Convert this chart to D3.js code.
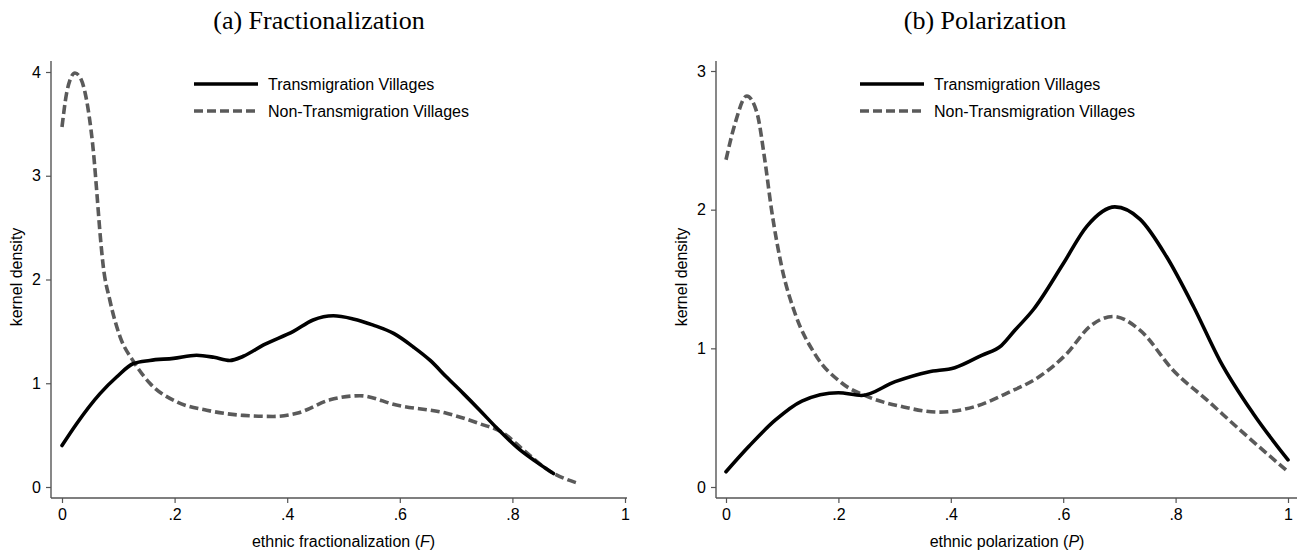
<!DOCTYPE html>
<html>
<head>
<meta charset="utf-8">
<script src="https://cdn.jsdelivr.net/npm/d3@7"></script>
<style>
  body { margin: 0; background: #fff; }
  svg text { font-family: "Liberation Sans", Arial, sans-serif; fill: #000; }
  .title { font-family: "Liberation Serif", "Times New Roman", serif; }
</style>
</head>
<body>
<svg id="chart" width="1303" height="552"></svg>
<script>
// tick labels
const xTicks = [0, 0.2, 0.4, 0.6, 0.8, 1];
const xTickLabels = ['0', '.2', '.4', '.6', '.8', '1'];
const seriesNames = ['Transmigration Villages', 'Non-Transmigration Villages'];

// (a) fractionalization
const fracTransX = [0, 0.026, 0.0675, 0.097, 0.127, 0.156, 0.198, 0.239, 0.27, 0.298, 0.322, 0.358, 0.411, 0.446, 0.482, 0.517, 0.553, 0.589, 0.624, 0.654, 0.683, 0.713, 0.742, 0.772, 0.813, 0.843, 0.873];
const fracTransY = [0.40, 0.61, 0.90, 1.06, 1.19, 1.22, 1.24, 1.27, 1.25, 1.22, 1.26, 1.37, 1.50, 1.61, 1.65, 1.62, 1.56, 1.48, 1.35, 1.22, 1.06, 0.90, 0.74, 0.57, 0.36, 0.24, 0.13];
const fracNonX = [0, 0.008, 0.014, 0.023, 0.032, 0.041, 0.047, 0.056, 0.062, 0.0675, 0.073, 0.085, 0.103, 0.127, 0.156, 0.204, 0.257, 0.322, 0.375, 0.417, 0.476, 0.529, 0.594, 0.683, 0.742, 0.784, 0.819, 0.867, 0.917];
const fracNonY = [3.47, 3.79, 3.92, 3.99, 3.95, 3.80, 3.62, 3.22, 2.83, 2.45, 2.14, 1.80, 1.45, 1.21, 1.00, 0.82, 0.74, 0.69, 0.68, 0.71, 0.84, 0.88, 0.79, 0.71, 0.61, 0.52, 0.36, 0.15, 0.035];
const fracYTicks = [0, 1, 2, 3, 4];

// (b) polarization
const polTransX = [0, 0.04, 0.087, 0.135, 0.2, 0.241, 0.301, 0.36, 0.407, 0.455, 0.49, 0.514, 0.547, 0.6, 0.642, 0.692, 0.737, 0.784, 0.832, 0.879, 0.938, 1.0];
const polTransY = [0.11, 0.29, 0.48, 0.62, 0.68, 0.66, 0.76, 0.83, 0.86, 0.95, 1.02, 1.13, 1.28, 1.61, 1.88, 2.02, 1.93, 1.66, 1.30, 0.91, 0.53, 0.195];
const polNonX = [0, 0.016, 0.037, 0.055, 0.069, 0.081, 0.099, 0.123, 0.158, 0.206, 0.253, 0.313, 0.378, 0.443, 0.502, 0.559, 0.606, 0.648, 0.689, 0.737, 0.796, 0.855, 0.915, 1.0];
const polNonY = [2.36, 2.62, 2.82, 2.70, 2.36, 2.0, 1.59, 1.25, 0.96, 0.75, 0.65, 0.58, 0.54, 0.58, 0.68, 0.80, 0.96, 1.16, 1.23, 1.13, 0.84, 0.63, 0.41, 0.11];
const polYTicks = [0, 1, 2, 3];

const zip = (xs, ys) => xs.map((x, i) => ({ x, y: ys[i] }));

const panels = [
    {
        title: '(a) Fractionalization', titleX: 319,
        xLabel: 'ethnic fractionalization (', xVar: 'F',
        axisLeft: 51, xRange: [62, 625], axisRight: 627,
        yMax: 4, yTop: 72, yTicks: fracYTicks,
        legendX: 194,
        trans: zip(fracTransX, fracTransY), non: zip(fracNonX, fracNonY)
    },
    {
        title: '(b) Polarization', titleX: 985,
        xLabel: 'ethnic polarization (', xVar: 'P',
        axisLeft: 716, xRange: [726, 1288], axisRight: 1297,
        yMax: 3, yTop: 71, yTicks: polYTicks,
        legendX: 860,
        trans: zip(polTransX, polTransY), non: zip(polNonX, polNonY)
    }
];

const svg = d3.select('#chart');
const axisColor = '#555';
const y0 = 487, axisY = 498, axisTop = 61;
const nonColor = '#5a5a5a';
const dash = '9,4';
const fs = '16px';

panels.forEach(p => {
    const x = d3.scaleLinear().domain([0, 1]).range(p.xRange);
    const y = d3.scaleLinear().domain([0, p.yMax]).range([y0, p.yTop]);
    const g = svg.append('g');

    // title
    g.append('text')
        .attr('class', 'title')
        .attr('x', p.titleX).attr('y', 29)
        .attr('text-anchor', 'middle')
        .style('font-size', '26px')
        .text(p.title);

    // y axis
    const yAxis = g.append('g')
        .attr('transform', `translate(${p.axisLeft},0)`)
        .call(d3.axisLeft(y).tickValues(p.yTicks).tickFormat(d3.format('d')).tickSize(5).tickPadding(5).tickSizeOuter(0));
    yAxis.select('.domain').attr('d', `M0,${axisTop}V${axisY}`);

    // x axis
    const xAxis = g.append('g')
        .attr('transform', `translate(0,${axisY})`)
        .call(d3.axisBottom(x).tickValues(xTicks).tickFormat((d, i) => xTickLabels[i]).tickSize(5).tickPadding(6).tickSizeOuter(0));
    xAxis.select('.domain').attr('d', `M${p.axisLeft},0H${p.axisRight}`);

    [yAxis, xAxis].forEach(a => {
        a.select('.domain').attr('stroke', axisColor).attr('stroke-width', 1.4);
        a.selectAll('.tick line').attr('stroke', axisColor).attr('stroke-width', 1.2);
        a.selectAll('.tick text').style('font-size', fs).attr('fill', '#000')
            .style('font-family', '"Liberation Sans", Arial, sans-serif');
    });

    // axis titles
    g.append('text')
        .attr('transform', `translate(${p.axisLeft - 29},277) rotate(-90)`)
        .attr('text-anchor', 'middle')
        .style('font-size', fs)
        .text('kernel density');

    const xt = g.append('text')
        .attr('x', (p.xRange[0] + p.xRange[1]) / 2).attr('y', 547)
        .attr('text-anchor', 'middle')
        .style('font-size', fs);
    xt.append('tspan').text(p.xLabel);
    xt.append('tspan').style('font-style', 'italic').text(p.xVar);
    xt.append('tspan').text(')');

    // curves
    const line = d3.line().x(d => x(d.x)).y(d => y(d.y)).curve(d3.curveMonotoneX);
    g.append('path').datum(p.non)
        .attr('d', line).attr('fill', 'none')
        .attr('stroke', nonColor).attr('stroke-width', 3.6)
        .attr('stroke-dasharray', dash);
    g.append('path').datum(p.trans)
        .attr('d', line).attr('fill', 'none')
        .attr('stroke', '#000').attr('stroke-width', 3.6)
        .attr('stroke-linecap', 'round').attr('stroke-linejoin', 'round');

    // legend
    const legendRows = [
        { name: seriesNames[0], color: '#000', dash: null, yy: 84 },
        { name: seriesNames[1], color: nonColor, dash: dash, yy: 111 }
    ];
    legendRows.forEach(r => {
        g.append('line')
            .attr('x1', p.legendX).attr('x2', p.legendX + 64)
            .attr('y1', r.yy).attr('y2', r.yy)
            .attr('stroke', r.color).attr('stroke-width', 3.6)
            .attr('stroke-dasharray', r.dash);
        g.append('text')
            .attr('x', p.legendX + 74).attr('y', r.yy + 5.5)
            .style('font-size', fs)
            .text(r.name);
    });
});
</script>
</body>
</html>
